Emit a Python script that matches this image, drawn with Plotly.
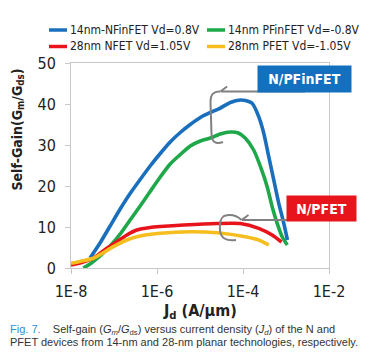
import plotly.graph_objects as go

# ---------------- data ----------------
series_names = ["14nm-NFinFET Vd=0.8V", "14nm PFinFET Vd=-0.8V",
                "28nm NFET Vd=1.05V", "28nm PFET Vd=-1.05V"]
series_colors = ["#1a6fbd", "#1ea84a", "#e8141c", "#f5be1e"]

nfin_jd = [2.77e-8, 4.74e-8, 8.11e-8, 1.39e-7, 2.37e-7, 4.06e-7, 6.93e-7, 1.19e-6,
           2.03e-6, 3.48e-6, 5.94e-6, 1.02e-5, 1.74e-5, 2.97e-5, 5.08e-5, 8.69e-5,
           1.14e-4, 1.63e-4, 2.32e-4, 3.04e-4, 3.97e-4, 5.20e-4, 6.79e-4, 8.89e-4, 1.08e-3]
nfin_gain = [2.44, 6.10, 10.24, 14.39, 18.17, 21.59, 24.88, 27.93,
             30.73, 33.05, 35.00, 36.71, 37.93, 39.02, 40.37, 40.98,
             40.85, 40.17, 36.90, 32.85, 27.15, 21.46, 15.78, 10.90, 6.83]

pfin_jd = [1.94e-8, 2.77e-8, 4.74e-8, 8.11e-8, 1.39e-7, 2.37e-7, 4.06e-7, 6.93e-7,
           1.19e-6, 2.03e-6, 3.48e-6, 5.94e-6, 1.02e-5, 1.74e-5, 2.97e-5, 5.08e-5,
           7.81e-5, 1.14e-4, 1.77e-4, 2.55e-4, 3.65e-4, 4.76e-4, 6.24e-4, 8.15e-4, 1.07e-3]
pfin_gain = [0.0, 0.98, 2.93, 5.37, 8.29, 11.71, 15.12, 18.66,
             22.20, 25.37, 27.68, 29.76, 30.98, 31.71, 32.68, 33.17,
             32.93, 31.63, 28.78, 24.71, 19.83, 14.95, 10.90, 7.63, 5.61]

nfet_jd = [1.0e-8, 1.62e-8, 3.31e-8, 6.79e-8, 1.16e-7, 1.99e-7, 3.40e-7, 6.93e-7,
           1.19e-6, 4.15e-6, 2.49e-5, 8.69e-5, 2.32e-4, 4.76e-4, 7.85e-4]
nfet_gain = [0.73, 1.22, 2.37, 4.80, 6.41, 8.05, 9.27, 9.88,
             10.12, 10.49, 10.85, 10.85, 9.68, 8.05, 6.34]

pfet_jd = [1.0e-8, 1.62e-8, 3.31e-8, 9.68e-8, 1.99e-7, 3.40e-7, 1.19e-6, 5.94e-6,
           2.49e-5, 1.14e-4, 2.32e-4, 3.97e-4]
pfet_gain = [1.15, 1.59, 2.37, 5.20, 6.83, 7.63, 8.46, 8.85,
             8.61, 7.63, 6.83, 5.61]

x_tickvals = [1e-8, 1e-6, 1e-4, 1e-2]
x_ticktext = ["1E-8", "1E-6", "1E-4", "1E-2"]
y_tickvals = [0, 10, 20, 30, 40, 50]

# ---------------- layout geometry ----------------
OFF = 8                       # page body margin
W, H = 385 - OFF, 357 - OFF
L, R, T, B = 71 - OFF, 329 - OFF, 63 - OFF, 268 - OFF   # plot area in figure pixels


def px(x, y):
    """page pixel -> paper coords"""
    x -= OFF
    y -= OFF
    return (x - L) / (R - L), (B - y) / (B - T)


FONT = "DejaVu Sans Condensed, DejaVu Sans, sans-serif"
GRAY_AX = "#c8c8c8"
ARROW = "#808080"

fig = go.Figure()
order = [1, 0, 2, 3]
data = [(nfin_jd, nfin_gain), (pfin_jd, pfin_gain), (nfet_jd, nfet_gain), (pfet_jd, pfet_gain)]
for i in order:
    xs, ys = data[i]
    fig.add_trace(go.Scatter(x=xs, y=ys, mode="lines", name=series_names[i],
                             line=dict(color=series_colors[i], width=3.6, shape="spline", smoothing=0.6),
                             showlegend=False))

shapes = []
annotations = []

# ---- manual legend ----
leg_pos = [(49, 68, 30), (207, 226, 30), (49, 68, 46.5), (207, 226, 46.5)]
for i, (lx0, tx, ly) in enumerate(leg_pos):
    a0 = px(lx0, ly)
    a1 = px(lx0 + 18, ly)
    shapes.append(dict(type="line", xref="paper", yref="paper", x0=a0[0], y0=a0[1], x1=a1[0], y1=a1[1],
                       line=dict(color=series_colors[i], width=3.5)))
    p = px(tx, ly)
    annotations.append(dict(xref="paper", yref="paper", x=p[0], y=p[1], xanchor="left", yanchor="middle",
                            text=series_names[i], showarrow=False,
                            font=dict(family=FONT, size=12, color="#222222")))


def path(points_cmd):
    out = []
    for cmd, pts in points_cmd:
        s = cmd
        s += " ".join("%.4f,%.4f" % px(x, y) for x, y in pts)
        out.append(s)
    return " ".join(out)


# ---- arrows ----
# FinFET arrow
p0, p1 = px(305, 91.5), px(221, 91.5)
shapes.append(dict(type="line", xref="paper", yref="paper", x0=p0[0], y0=p0[1], x1=p1[0], y1=p1[1],
                   line=dict(color=ARROW, width=2)))
shapes.append(dict(type="path", xref="paper", yref="paper",
                   path=path([("M", [(227, 86.5)]), ("L", [(220.5, 91.5), (227, 96.5)])]),
                   line=dict(color=ARROW, width=2)))
shapes.append(dict(type="path", xref="paper", yref="paper",
                   path=path([("M", [(220.5, 91.5)]), ("Q", [(210.5, 90.5), (210.5, 102)]),
                              ("L", [(211.5, 134)]), ("Q", [(212, 146), (223, 142)])]),
                   line=dict(color=ARROW, width=2)))
# planar arrow
p0, p1 = px(307, 220), px(242, 220)
shapes.append(dict(type="line", xref="paper", yref="paper", x0=p0[0], y0=p0[1], x1=p1[0], y1=p1[1],
                   line=dict(color=ARROW, width=2)))
shapes.append(dict(type="path", xref="paper", yref="paper",
                   path=path([("M", [(248.5, 215)]), ("L", [(241.5, 220), (248.5, 225)])]),
                   line=dict(color=ARROW, width=2)))
shapes.append(dict(type="path", xref="paper", yref="paper",
                   path=path([("M", [(241.5, 220)]), ("Q", [(234, 213), (224, 216)]),
                              ("Q", [(219, 219), (220, 230)]), ("Q", [(221, 242), (236, 240)])]),
                   line=dict(color=ARROW, width=2)))

# ---- labelled boxes ----
c = px(304.5, 79)
annotations.append(dict(xref="paper", yref="paper", x=c[0], y=c[1], xanchor="center", yanchor="middle",
                        text="<b>N/PFinFET</b>", showarrow=False, bgcolor="#1370bf",
                        width=91, height=24, font=dict(family=FONT, size=14, color="white")))
c = px(321.5, 208.5)
annotations.append(dict(xref="paper", yref="paper", x=c[0], y=c[1], xanchor="center", yanchor="middle",
                        text="<b>N/PFET</b>", showarrow=False, bgcolor="#e8141c",
                        width=67, height=23, font=dict(family=FONT, size=14, color="white")))

# ---- axis titles ----
c = px(17.5, 130)
annotations.append(dict(xref="paper", yref="paper", x=c[0], y=c[1], xanchor="center", yanchor="middle",
                        textangle=-90, showarrow=False,
                        text="<b>Self-Gain(G<sub>m</sub>/G<sub>ds</sub>)</b>",
                        font=dict(family=FONT, size=14, color="#222222")))
c = px(200, 311)
annotations.append(dict(xref="paper", yref="paper", x=c[0], y=c[1], xanchor="center", yanchor="middle",
                        showarrow=False, text="<b>J<sub>d</sub> (A/μm)</b>",
                        font=dict(family=FONT, size=16, color="#222222")))

# ---- caption ----
CAP = "Liberation Sans, Arial, sans-serif"
c = px(8, 330)
annotations.append(dict(xref="paper", yref="paper", x=c[0], y=c[1], xanchor="left", yanchor="middle",
                        showarrow=False,
                        text="<span style='color:#2b8fd0'>Fig. 7.</span>&nbsp;&nbsp;&nbsp; Self-gain (<i>G<sub>m</sub></i>/<i>G</i><sub>ds</sub>) versus current density (<i>J<sub>d</sub></i>) of the N and",
                        font=dict(family=CAP, size=11, color="#333333")))
c = px(8, 341.5)
annotations.append(dict(xref="paper", yref="paper", x=c[0], y=c[1], xanchor="left", yanchor="middle",
                        showarrow=False,
                        text="PFET devices from 14-nm and 28-nm planar technologies, respectively.",
                        font=dict(family=CAP, size=11, color="#333333")))

fig.update_layout(
    width=W, height=H,
    margin=dict(l=L, r=W - R, t=T, b=H - B, pad=0),
    paper_bgcolor="white", plot_bgcolor="white",
    showlegend=False,
    shapes=shapes, annotations=annotations,
    font=dict(family=FONT, size=16, color="#222222"),
    xaxis=dict(type="log", range=[-8, -2], tickvals=x_tickvals, ticktext=x_ticktext,
               showgrid=False, zeroline=False, showline=True, linecolor=GRAY_AX, linewidth=1,
               mirror=True, ticks="outside", ticklen=5, tickcolor=GRAY_AX,
               ticklabelstandoff=4, tickfont=dict(family=FONT, size=16, color="#222222")),
    yaxis=dict(range=[0, 50], tickvals=y_tickvals, showgrid=False, zeroline=False,
               showline=True, linecolor=GRAY_AX, linewidth=1, mirror=True,
               ticks="outside", ticklen=5, tickcolor=GRAY_AX, ticklabelstandoff=6,
               tickfont=dict(family=FONT, size=16, color="#222222")),
)

fig.write_html("out.html")
